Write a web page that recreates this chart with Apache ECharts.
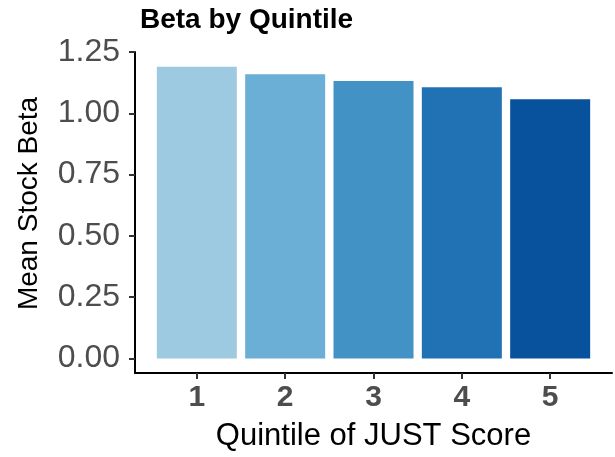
<!DOCTYPE html>
<html>
<head>
<meta charset="utf-8">
<script src="https://cdn.jsdelivr.net/npm/echarts@6/dist/echarts.min.js"></script>
<style>
  html, body { margin: 0; padding: 0; background: #fff; }
  #chart { width: 615px; height: 457px; }
</style>
</head>
<body>
<div id="chart"></div>
<script>
// 数据
const quintiles = [1, 2, 3, 4, 5]
const meanBeta = [1.190, 1.160, 1.132, 1.107, 1.058]
const barColors = ['#9ecae1', '#6baed6', '#4292c6', '#2171b5', '#08519c']
const yTicks = [0, 0.25, 0.5, 0.75, 1.0, 1.25]

const chart = echarts.init(document.getElementById('chart'), null, { renderer: 'canvas' })

const font = 'Liberation Sans, Arial, sans-serif'

chart.setOption({
  animation: false,
  title: {
    text: 'Beta by Quintile',
    left: 135,
    top: 1,
    textStyle: { fontFamily: font, fontWeight: 'bold', fontSize: 28, color: '#000' }
  },
  grid: { left: 135, right: 3, top: 52, bottom: 84 },
  xAxis: {
    type: 'value',
    min: 0.3,
    max: 5.7,
    splitLine: { show: false },
    axisLine: { onZero: false, lineStyle: { color: '#000', width: 2 } },
    axisTick: { customValues: quintiles, length: 6, lineStyle: { color: '#333', width: 2 } },
    axisLabel: {
      customValues: quintiles,
      margin: 10,
      fontFamily: font,
      fontWeight: 'bold',
      fontSize: 30,
      color: '#4d4d4d'
    },
    name: 'Quintile of JUST Score',
    nameLocation: 'middle',
    nameGap: 48,
    nameTextStyle: { fontFamily: font, fontSize: 31, color: '#000' }
  },
  yAxis: {
    type: 'value',
    min: -0.0595,
    max: 1.2505,
    splitLine: { show: false },
    axisLine: { show: true, onZero: false, lineStyle: { color: '#000', width: 2 } },
    axisTick: { show: true, customValues: yTicks, length: 6, lineStyle: { color: '#333', width: 2 } },
    axisLabel: {
      customValues: yTicks,
      margin: 15,
      fontFamily: font,
      fontSize: 32,
      color: '#4d4d4d',
      formatter: v => v.toFixed(2)
    },
    name: 'Mean Stock Beta',
    nameLocation: 'middle',
    nameGap: 92,
    nameTextStyle: { fontFamily: font, fontSize: 28, color: '#000', padding: [0, 0, 0, 18] }
  },
  series: [
    {
      type: 'bar',
      barWidth: 80,
      data: quintiles.map((q, i) => ({
        value: [q, meanBeta[i]],
        itemStyle: { color: barColors[i] }
      }))
    }
  ]
})
</script>
</body>
</html>
